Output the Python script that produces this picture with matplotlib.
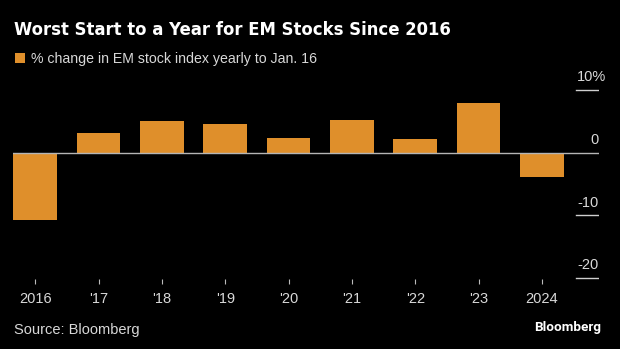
import matplotlib
matplotlib.use('Agg')
import matplotlib.pyplot as plt
import matplotlib.transforms as mtrans

# % change in EM stock index, yearly to Jan. 16
years = ['2016', "'17", "'18", "'19", "'20", "'21", "'22", "'23", '2024']
changes = [-10.7, 3.1, 5.1, 4.6, 2.3, 5.2, 2.1, 7.9, -3.9]
yticks = [10, 0, -10, -20]
ytick_labels = ['10%', '0', '-10', '-20']

BG = '#000000'
ORANGE = '#DF8F2B'
TXT = '#d8d8d8'
FONT = 'Liberation Sans'

fig = plt.figure(figsize=(6.2, 3.49), dpi=100, facecolor=BG)
ax = fig.add_axes([13/620, 0.1854, 586/620, 0.7602-0.1854], facecolor=BG)

bars = ax.bar(range(len(years)), changes, width=0.69, color=ORANGE,
              label='% change in EM stock index yearly to Jan. 16', zorder=2)
ax.set_xlim(-0.35, 8.9)
ax.set_ylim(-21, 11)

ax.axhline(0, color='#b5b5b5', lw=1.0, zorder=3)
trans = mtrans.blended_transform_factory(ax.transAxes, ax.transData)
for v, lab in zip(yticks, ytick_labels):
    if v != 0:
        ax.axhline(v, xmin=0.961, xmax=1.0, color='#cfcfcf', lw=1.0)
    # the percent sign hangs past the right edge
    dx = 5.2 if lab.endswith('%') else 0
    ax.annotate(lab, xy=(1.0, v), xycoords=trans, xytext=(dx, 9.1),
                textcoords='offset points', ha='right', va='center',
                color=TXT, fontsize=10.5, family=FONT, annotation_clip=False)

ax.set_yticks([])
ax.set_xticks(range(len(years)))
ax.set_xticklabels(years, family=FONT, fontsize=10.5, color=TXT)
ax.tick_params(axis='x', direction='in', length=3.6, width=0.8, color='#bbbbbb', pad=5.5)
for s in ax.spines.values():
    s.set_visible(False)

fig.text(14/620, 1 - 35/349, 'Worst Start to a Year for EM Stocks Since 2016',
         color='white', fontsize=11.9, fontweight='bold', family='DejaVu Sans',
         ha='left', va='baseline')

leg = fig.legend(handles=[bars], loc='center left', bbox_to_anchor=(15/620, 1 - 59.3/349),
                 frameon=False, prop={'family': FONT, 'size': 10.2},
                 handlelength=0.68, handleheight=0.68, handletextpad=0.45,
                 borderpad=0, borderaxespad=0)
for t in leg.get_texts():
    t.set_color(TXT)

fig.text(14/620, 1 - 330/349, 'Source: Bloomberg', color=TXT, fontsize=10.5,
         family=FONT, ha='left', va='center')
fig.text(601/620, 1 - 327/349, 'Bloomberg', color='white', fontsize=9.7,
         fontweight='bold', family='Roboto', ha='right', va='center')

fig.savefig('out.png', dpi=100, facecolor=BG)
